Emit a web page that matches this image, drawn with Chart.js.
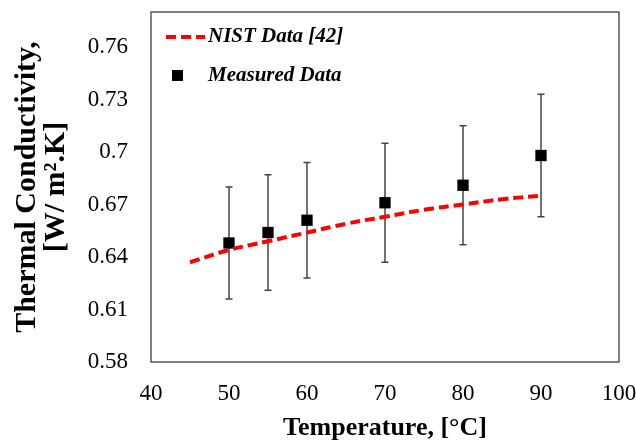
<!DOCTYPE html>
<html>
<head>
<meta charset="utf-8">
<script src="https://cdn.jsdelivr.net/npm/chart.js@4/dist/chart.umd.min.js"></script>
<style>
  body { margin: 0; background: #fff; }
  #wrap { width: 636px; height: 445px; }
</style>
</head>
<body>
<div id="wrap"><canvas id="tcChart" width="636" height="445"></canvas></div>
<script>
// NIST reference curve
var nistTemp = [45, 50, 55, 60, 65, 70, 75, 80, 85, 90];
var nistK = [0.637, 0.644, 0.649, 0.654, 0.659, 0.663, 0.667, 0.670, 0.673, 0.675];

// measured points and their error bars
var measTemp = [50, 55, 60, 70, 80, 90];
var measK = [0.648, 0.654, 0.661, 0.671, 0.681, 0.698];
var measErr = [0.032, 0.033, 0.033, 0.034, 0.034, 0.035];

var yTicks = [0.58, 0.61, 0.64, 0.67, 0.7, 0.73, 0.76];
var xTicks = [40, 50, 60, 70, 80, 90, 100];

var serif = "'Liberation Serif', 'Times New Roman', serif";

function toXY(xs, ys) {
    return xs.map(function (x, i) { return { x: x, y: ys[i] }; });
}

// scales should not push the plot area around
function noPad(s) {
    s.paddingTop = 0; s.paddingBottom = 0;
    s.paddingLeft = 0; s.paddingRight = 0;
}

// error bars under the squares
var errorBars = {
    id: 'errorBars',
    beforeDatasetsDraw: function (chart) {
        var ctx = chart.ctx, xs = chart.scales.x, ys = chart.scales.y;
        ctx.save();
        ctx.strokeStyle = '#444';
        ctx.lineWidth = 1.5;
        measTemp.forEach(function (t, i) {
            var px = xs.getPixelForValue(t);
            var top = ys.getPixelForValue(measK[i] + measErr[i]);
            var bot = ys.getPixelForValue(measK[i] - measErr[i]);
            ctx.beginPath();
            ctx.moveTo(px, top); ctx.lineTo(px, bot);
            ctx.moveTo(px - 3.5, top); ctx.lineTo(px + 3.5, top);
            ctx.moveTo(px - 3.5, bot); ctx.lineTo(px + 3.5, bot);
            ctx.stroke();
        });
        ctx.restore();
    }
};

// plot frame + legend inside the plot
var frameLegend = {
    id: 'frameLegend',
    afterDraw: function (chart) {
        var ctx = chart.ctx, a = chart.chartArea;
        ctx.save();
        ctx.strokeStyle = '#555';
        ctx.lineWidth = 1.5;
        ctx.strokeRect(a.left, a.top, a.right - a.left, a.bottom - a.top);

        var lx = a.left + 15, ly = a.top + 25;
        ctx.strokeStyle = '#ff0000';
        ctx.lineWidth = 4;
        ctx.setLineDash([10, 5]);
        ctx.beginPath();
        ctx.moveTo(lx, ly); ctx.lineTo(lx + 39, ly);
        ctx.stroke();
        ctx.setLineDash([]);

        ctx.fillStyle = '#000';
        ctx.fillRect(lx + 6, ly + 33, 11, 11);

        ctx.font = 'italic bold 21px ' + serif;
        ctx.textBaseline = 'middle';
        ctx.fillText('NIST Data [42]', lx + 42, ly);
        ctx.fillText('Measured Data', lx + 42, ly + 39);
        ctx.restore();
    }
};

var ctx = document.getElementById('tcChart').getContext('2d');

var chart = new Chart(ctx, {
    type: 'scatter',
    data: {
        datasets: [
            {
                label: 'NIST Data [42]',
                data: toXY(nistTemp, nistK),
                showLine: true,
                borderColor: '#ff0000',
                borderWidth: 4,
                borderDash: [10, 5],
                tension: 0.4,
                pointRadius: 0
            },
            {
                label: 'Measured Data',
                data: toXY(measTemp, measK),
                pointStyle: 'rect',
                pointRadius: 8,
                backgroundColor: '#000',
                borderColor: '#000',
                borderWidth: 0
            }
        ]
    },
    options: {
        responsive: false,
        animation: false,
        layout: { padding: { top: 12, right: 17, left: 0, bottom: 0 } },
        plugins: {
            legend: { display: false },
            tooltip: { enabled: false }
        },
        scales: {
            x: {
                type: 'linear',
                min: 40,
                max: 100,
                afterBuildTicks: function (s) { s.ticks = xTicks.map(function (v) { return { value: v }; }); },
                afterFit: function (s) { s.height = 83; noPad(s); },
                grid: { display: false },
                border: { display: false },
                ticks: { color: '#000', padding: 10, font: { family: serif, size: 23 } },
                title: {
                    display: true,
                    text: 'Temperature, [°C]',
                    color: '#000',
                    padding: { top: 4, bottom: 1 },
                    font: { family: serif, size: 26, weight: 'bold' }
                }
            },
            y: {
                min: 0.58,
                max: 0.78,
                afterBuildTicks: function (s) { s.ticks = yTicks.map(function (v) { return { value: v }; }); },
                afterFit: function (s) { s.width = 151; noPad(s); },
                grid: { display: false },
                border: { display: false },
                ticks: {
                    color: '#000',
                    padding: 15,
                    font: { family: serif, size: 23 },
                    callback: function (v) { return String(v); }
                },
                title: {
                    display: true,
                    text: ['Thermal Conductivity,', '[W/ m².K]'],
                    color: '#000',
                    padding: { top: 13, bottom: 0 },
                    font: { family: serif, size: 30, weight: 'bold', lineHeight: 0.95 }
                }
            }
        }
    },
    plugins: [errorBars, frameLegend]
});
</script>
</body>
</html>
